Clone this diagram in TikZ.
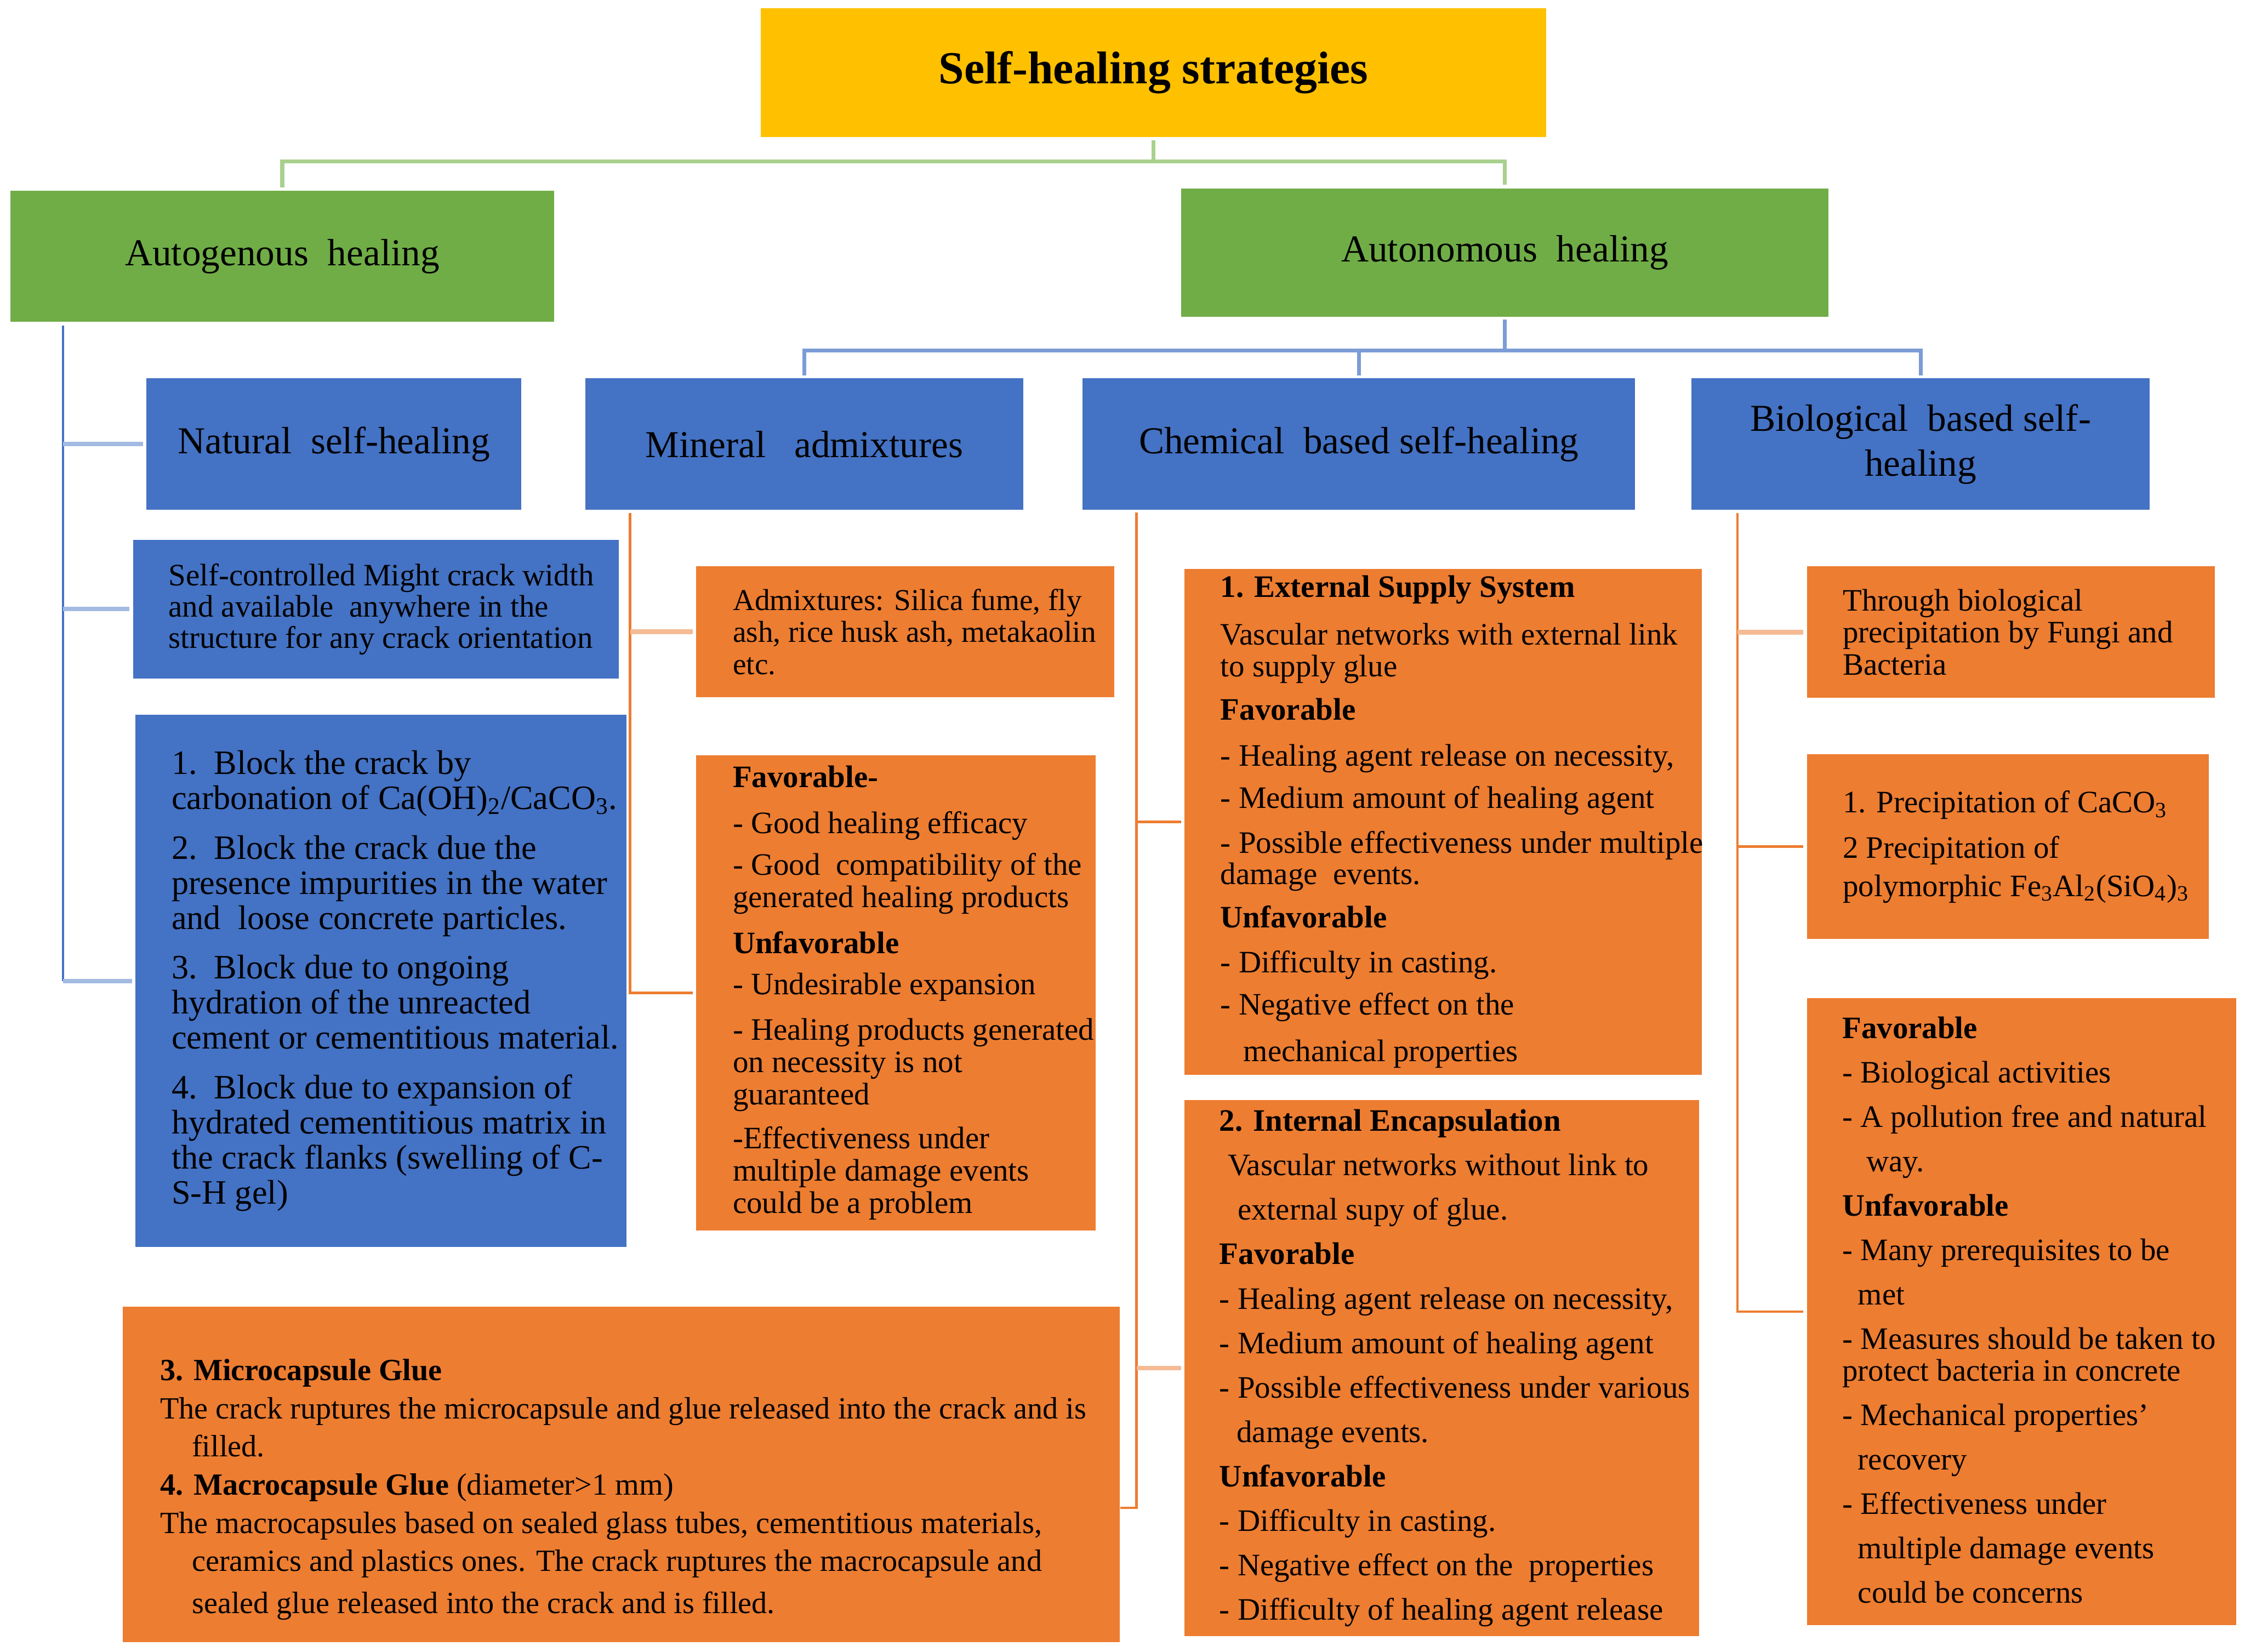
\documentclass[tikz,border=0pt]{standalone}
\usepackage{fontspec}
\setmainfont{Liberation Serif}
\usetikzlibrary{calc}
\definecolor{cyellow}{HTML}{FFC000}
\definecolor{cgreen}{HTML}{70AD47}
\definecolor{cblue}{HTML}{4472C4}
\definecolor{corange}{HTML}{ED7D31}
\definecolor{lgreen}{HTML}{A9D18E}
\definecolor{lblue}{HTML}{A3BBE3}
\definecolor{mblue}{HTML}{7C9CD6}
\definecolor{peach}{HTML}{F5BB95}
\tikzset{
  fbox/.style={draw=none, fill=#1, anchor=north west, inner sep=0pt, align=center, text=black},
  hdr/.style={font=\fontsize{20.7}{24.5}\selectfont},
  txt/.style={anchor=west, inner sep=0pt, align=left, text=black},
  gline/.style={draw=lgreen, line width=2.2pt},
  bline/.style={draw=mblue, line width=2.2pt},
  btrunk/.style={draw=cblue, line width=1.3pt},
  bbranch/.style={draw=lblue, line width=2.4pt},
  oline/.style={draw=corange, line width=1.4pt},
  pline/.style={draw=peach, line width=2.6pt},
}
\begin{document}
\begin{tikzpicture}
\useasboundingbox (0,0) rectangle (43,-31.64);
\fill[white] (0,0) rectangle (43,-31.64);

% ---------- level 0/1 ----------
\node[fbox=cyellow, minimum width=15.05cm, minimum height=2.47cm, font=\bfseries\fontsize{25}{30}\selectfont] (root) at (14.56,-0.15) {Self-healing strategies};
\node[fbox=cgreen, hdr, minimum width=10.42cm, minimum height=2.51cm] (autog) at (0.19,-3.65) {Autogenous~~healing};
\node[fbox=cgreen, hdr, minimum width=12.39cm, minimum height=2.46cm] (auton) at (22.62,-3.60) {Autonomous~~healing};

% ---------- level 2 ----------
\node[fbox=cblue, hdr, minimum width=7.18cm, minimum height=2.52cm] (natural) at (2.80,-7.24) {Natural~~self-healing};
\node[fbox=cblue, hdr, minimum width=8.38cm, minimum height=2.52cm] (mineral) at (11.21,-7.24) {Mineral~~~admixtures};
\node[fbox=cblue, hdr, minimum width=10.58cm, minimum height=2.52cm] (chem) at (20.73,-7.24) {Chemical~~based self-healing};
\node[fbox=cblue, hdr, minimum width=8.78cm, minimum height=2.52cm] (bio) at (32.39,-7.24) {Biological~~based self-\\healing};

% ---------- autogenous column ----------
\node[fbox=cblue, minimum width=9.30cm, minimum height=2.66cm] (selfc) at (2.54,-10.33) {};
\node[txt, font=\fontsize{17}{17.1}\selectfont] (selfc-t) at ($(selfc.west)+(0.68,0)$) {Self-controlled Might crack width\\
and available~~anywhere in the\\
structure for any crack orientation};

\node[fbox=cblue, minimum width=9.40cm, minimum height=10.20cm] (block) at (2.59,-13.68) {};
\node[txt, font=\fontsize{18.6}{19.1}\selectfont] (block-t) at ($(block.west)+(0.69,0)$) {1.~~Block the crack by\\
carbonation of Ca(OH)\textsubscript{2}/CaCO\textsubscript{3}.\\[8pt]
2.~~Block the crack due the\\
presence impurities in the water\\
and~~loose concrete particles.\\[8pt]
3.~~Block due to ongoing\\
hydration of the unreacted\\
cement or cementitious material.\\[8pt]
4.~~Block due to expansion of\\
hydrated cementitious matrix in\\
the crack flanks (swelling of C-\\
S-H gel)};

% ---------- mineral column ----------
\node[fbox=corange, minimum width=8.01cm, minimum height=2.51cm] (admix) at (13.33,-10.84) {};
\node[txt, font=\fontsize{16.5}{17.5}\selectfont] (admix-t) at ($(admix.west)+(0.70,0)$) {Admixtures: Silica fume, fly\\
ash, rice husk ash, metakaolin\\
etc.};

\node[fbox=corange, minimum width=7.65cm, minimum height=9.10cm] (minfav) at (13.33,-14.46) {};
\node[txt, font=\fontsize{17}{17.6}\selectfont] (minfav-t) at ($(minfav.west)+(0.70,0)$) {\textbf{Favorable-}\\[7.5pt]
- Good healing efficacy\\[5pt]
- Good~~compatibility of the\\
generated healing products\\[7.5pt]
\textbf{Unfavorable}\\[5pt]
- Undesirable expansion\\[7pt]
- Healing products generated\\
on necessity is not\\
guaranteed\\[6.5pt]
-Effectiveness under\\
multiple damage events\\
could be a problem};

% ---------- chemical column ----------
\node[fbox=corange, minimum width=9.91cm, minimum height=9.69cm] (ext) at (22.68,-10.89) {};
\node[txt, font=\fontsize{17}{17.1}\selectfont] (ext-t) at ($(ext.west)+(0.69,0)$) {\textbf{1. External Supply System}\\[9pt]
Vascular networks with external link\\
to supply glue\\[6.5pt]
\textbf{Favorable}\\[8pt]
- Healing agent release on necessity,\\[6pt]
- Medium amount of healing agent\\[7.4pt]
- Possible effectiveness under multiple\\
damage~~events.\\[6.5pt]
\textbf{Unfavorable}\\[7.4pt]
- Difficulty in casting.\\[5.7pt]
- Negative effect on the\\[8.5pt]
\hspace*{0.44cm}mechanical properties};

\node[fbox=corange, minimum width=9.86cm, minimum height=10.27cm] (int) at (22.68,-21.06) {};
\node[txt, font=\fontsize{17}{24.2}\selectfont] (int-t) at ($(int.west)+(0.67,0)$) {\textbf{2. Internal Encapsulation}\\
\hspace*{0.16cm}Vascular networks without link to\\
\hspace*{0.35cm}external supy of glue.\\
\textbf{Favorable}\\
- Healing agent release on necessity,\\
- Medium amount of healing agent\\
- Possible effectiveness under various\\
\hspace*{0.33cm}damage events.\\
\textbf{Unfavorable}\\
- Difficulty in casting.\\
- Negative effect on the~~properties\\
- Difficulty of healing agent release};

\node[fbox=corange, minimum width=19.10cm, minimum height=6.42cm] (micro) at (2.34,-25.02) {};
\node[txt, font=\fontsize{16.8}{20.8}\selectfont] (micro-t) at ($(micro.west)+(0.72,-0.29)$) {\textbf{3. Microcapsule Glue}\\
The crack ruptures the microcapsule and glue released into the crack and is\\
\hspace*{0.61cm}filled.\\
\textbf{4. Macrocapsule Glue} (diameter>1 mm)\\
The macrocapsules based on sealed glass tubes, cementitious materials,\\
\hspace*{0.61cm}ceramics and plastics ones. The crack ruptures the macrocapsule and\\[2pt]
\hspace*{0.61cm}sealed glue released into the crack and is filled.};

% ---------- biological column ----------
\node[fbox=corange, minimum width=7.81cm, minimum height=2.52cm] (through) at (34.60,-10.84) {};
\node[txt, font=\fontsize{17}{17.5}\selectfont] (through-t) at ($(through.west)+(0.69,0)$) {Through biological\\
precipitation by Fungi and\\
Bacteria};

\node[fbox=corange, minimum width=7.70cm, minimum height=3.54cm] (precip) at (34.60,-14.44) {};
\node[txt, font=\fontsize{17}{20.8}\selectfont] (precip-t) at ($(precip.west)+(0.69,0)$) {1. Precipitation of CaCO\textsubscript{3}\\[4pt]
2 Precipitation of\\
polymorphic Fe\textsubscript{3}Al\textsubscript{2}(SiO\textsubscript{4})\textsubscript{3}};

\node[fbox=corange, minimum width=8.22cm, minimum height=12.01cm] (biofav) at (34.60,-19.11) {};
\node[txt, font=\fontsize{17}{24.2}\selectfont] (biofav-t) at ($(biofav.west)+(0.68,0.03)$) {\textbf{Favorable}\\
- Biological activities\\
- A pollution free and natural\\
\hspace*{0.46cm}way.\\
\textbf{Unfavorable}\\
- Many prerequisites to be\\
\hspace*{0.30cm}met\\
- Measures should be taken to\\[-7pt]
protect bacteria in concrete\\
- Mechanical properties'\\
\hspace*{0.30cm}recovery\\
- Effectiveness under\\
\hspace*{0.30cm}multiple damage events\\
\hspace*{0.30cm}could be concerns};

% ---------- connectors ----------
\draw[gline] ([yshift=-0.05cm]root.south) -- ++(0,-0.41) -| ([yshift=0.06cm]autog.north);
\draw[gline] ([yshift=-0.05cm]root.south) -- ++(0,-0.41) -| ([yshift=0.06cm]auton.north);

\draw[bline] ([yshift=-0.05cm]auton.south) -- ++(0,-0.59) -| ([yshift=0.05cm]mineral.north);
\draw[bline] ([yshift=-0.05cm]auton.south) -- ++(0,-0.59) -| ([yshift=0.05cm]chem.north);
\draw[bline] ([yshift=-0.05cm]auton.south) -- ++(0,-0.59) -| ([yshift=0.05cm]bio.north);

\coordinate (agt) at ($(autog.south west)+(1.02,-0.06)$);
\draw[btrunk] (agt) -- (agt |- block.west);
\draw[bbranch] (agt |- natural.west) -- ([xshift=-0.06cm]natural.west);
\draw[bbranch] (agt |- selfc.west) -- ([xshift=-0.06cm]selfc.west);
\draw[bbranch] (agt |- block.west) -- ([xshift=-0.06cm]block.west);

\coordinate (mt) at ($(mineral.south west)+(0.86,-0.05)$);
\draw[oline] (mt) |- ([xshift=-0.06cm]minfav.west);
\draw[pline] (mt |- admix.west) -- ([xshift=-0.06cm]admix.west);

\coordinate (ct) at ($(chem.south west)+(1.04,-0.04)$);
\coordinate (mc) at ($(micro.north east)+(0,-3.86)$);
\draw[oline] (ct) |- (mc);
\draw[oline] (ct |- ext.west) -- ([xshift=-0.06cm]ext.west);
\draw[pline] (ct |- int.west) -- ([xshift=-0.06cm]int.west);

\coordinate (bt) at ($(bio.south west)+(0.89,-0.05)$);
\draw[oline] (bt) |- ([xshift=-0.06cm]biofav.west);
\draw[pline] (bt |- through.west) -- ([xshift=-0.06cm]through.west);
\draw[oline] (bt |- precip.west) -- ([xshift=-0.06cm]precip.west);
\end{tikzpicture}
\end{document}
